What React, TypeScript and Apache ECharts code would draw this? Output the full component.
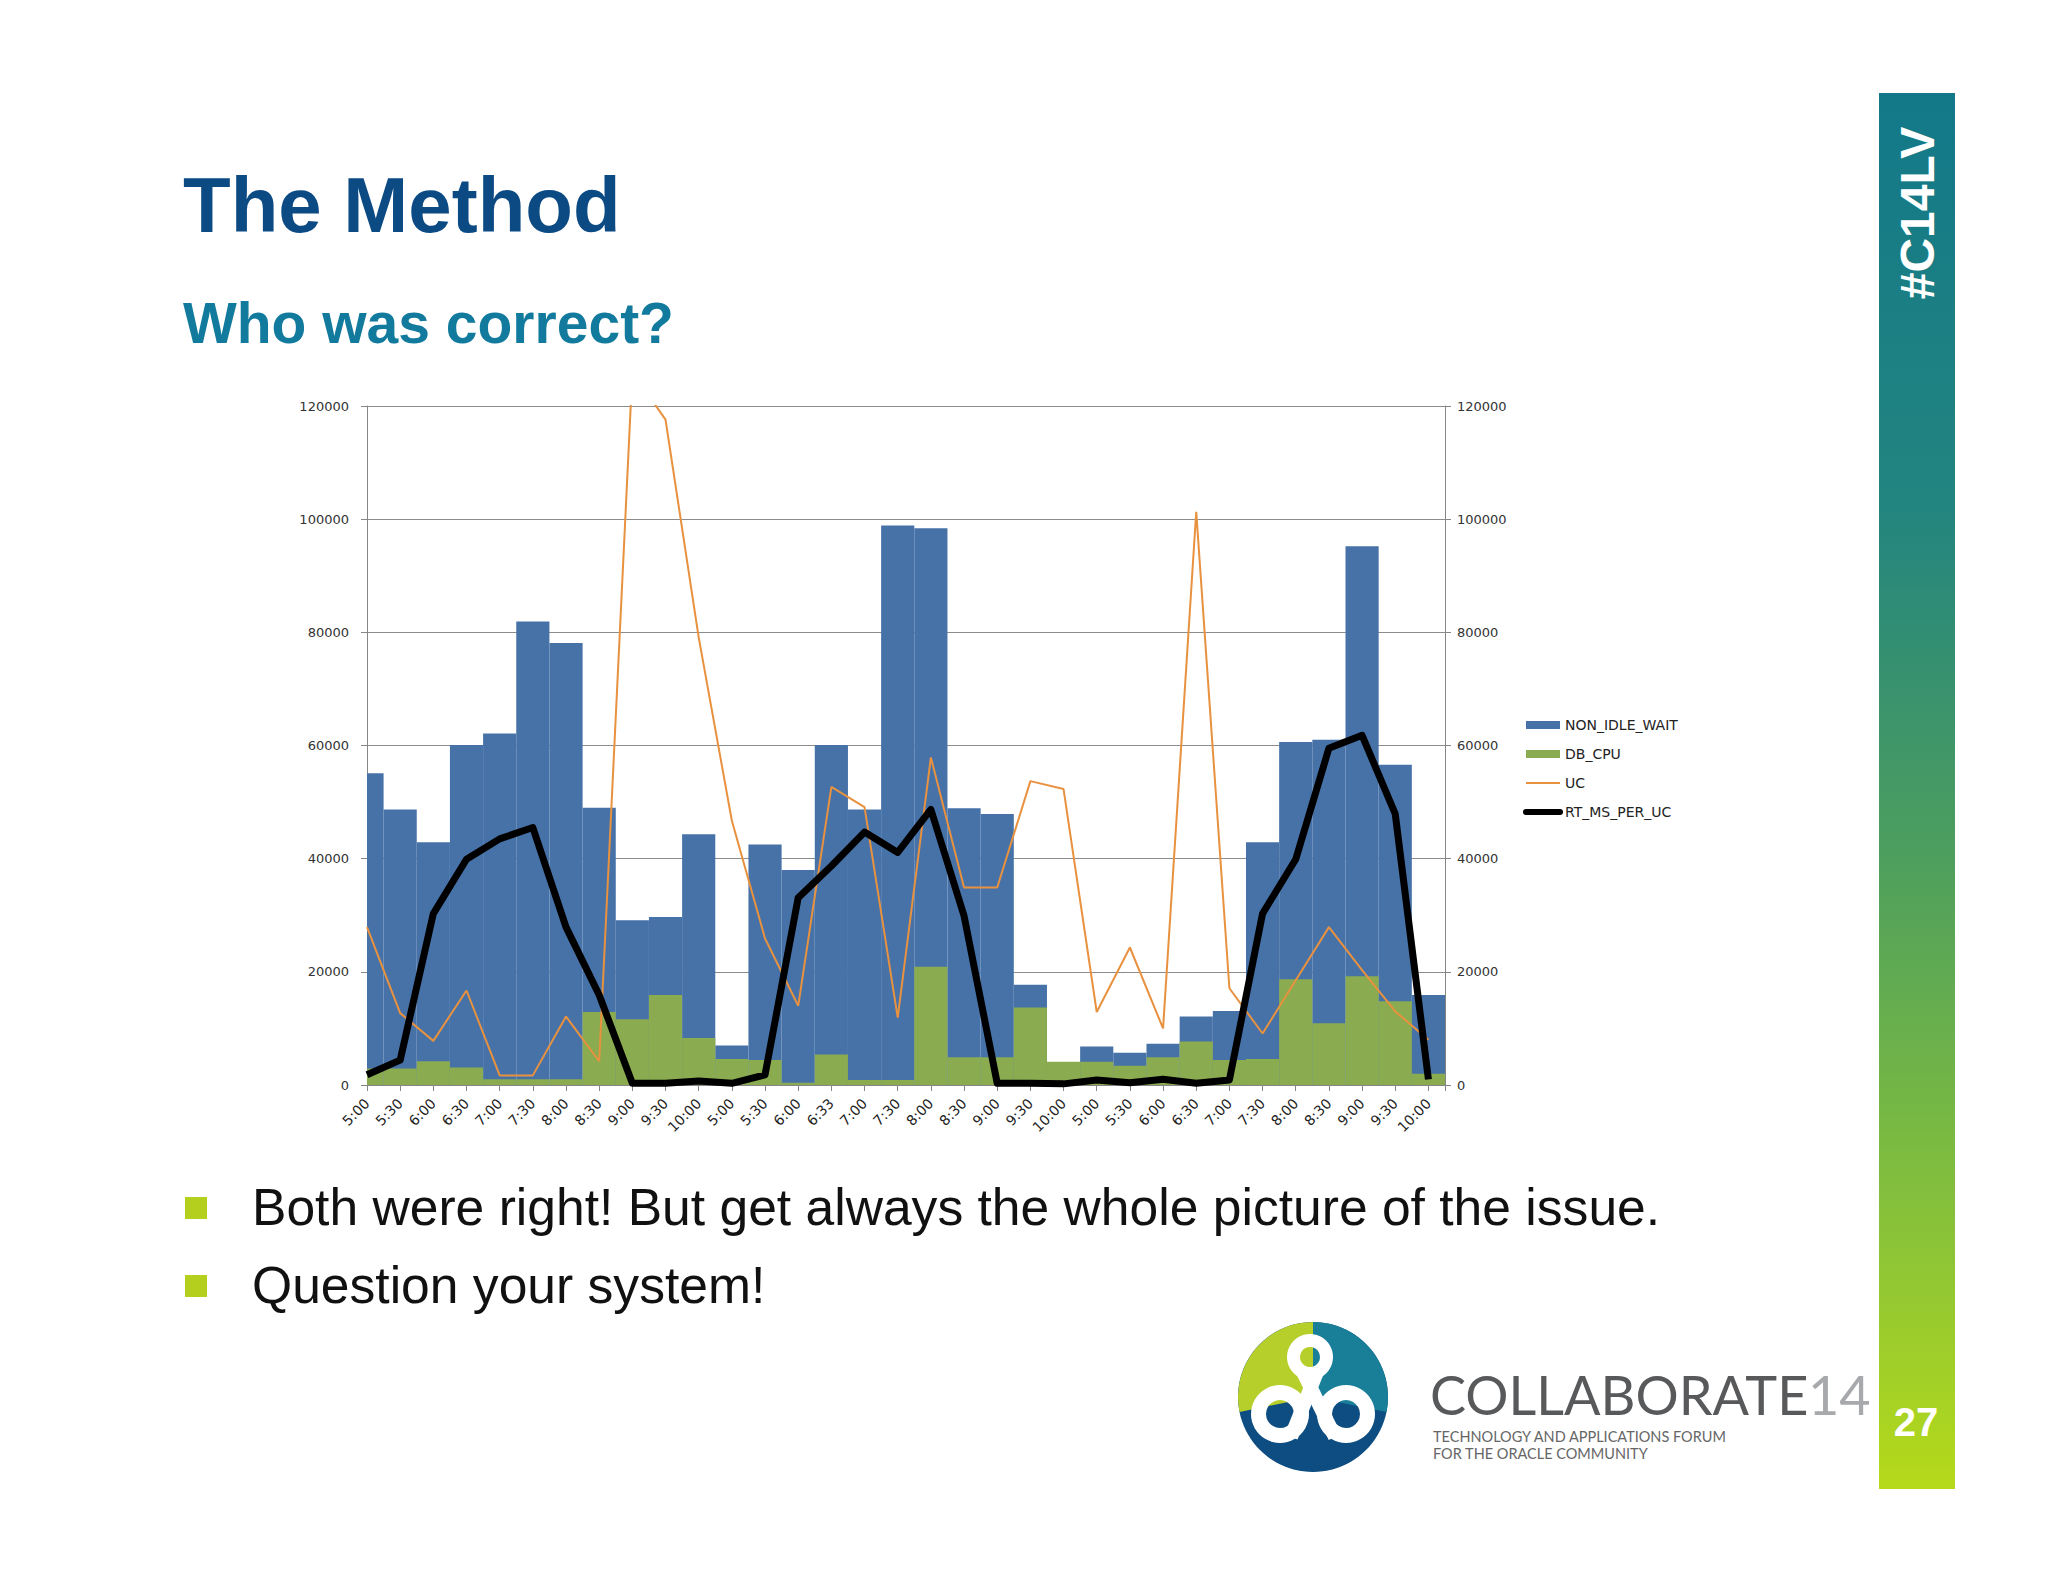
import React, { useEffect, useRef } from 'react';
import * as echarts from 'echarts';

const categories = ['5:00', '5:30', '6:00', '6:30', '7:00', '7:30', '8:00', '8:30', '9:00', '9:30', '10:00',
  '5:00', '5:30', '6:00', '6:33', '7:00', '7:30', '8:00', '8:30', '9:00', '9:30', '10:00',
  '5:00', '5:30', '6:00', '6:30', '7:00', '7:30', '8:00', '8:30', '9:00', '9:30', '10:00'];

const nonIdleWait = [55100, 48700, 42900, 60100, 62100, 81900, 78100, 49000, 29100, 29700, 44300,
  7000, 42500, 38000, 60100, 48700, 98900, 98400, 48900, 47900, 17700, 3800,
  6800, 5700, 7300, 12100, 13100, 42900, 60600, 61000, 95200, 56600, 15900];

const dbCpu = [2900, 2900, 4200, 3100, 1000, 1000, 1000, 12900, 11600, 15900, 8300,
  4600, 4400, 400, 5400, 900, 900, 20900, 4900, 4900, 13700, 4100,
  4100, 3400, 4900, 7700, 4400, 4600, 18700, 10900, 19200, 14800, 2000];

const uc = [27900, 12700, 7800, 16700, 1700, 1700, 12100, 4200, 126000, 117600, 79100,
  46700, 25900, 14000, 52700, 49100, 11900, 57900, 34900, 34900, 53700, 52300,
  12900, 24300, 10000, 101300, 17100, 9100, 18500, 27900, 20300, 13000, 8000];

const rtMsPerUc = [1800, 4400, 30300, 39900, 43500, 45500, 27900, 15900, 300, 300, 700,
  300, 1800, 33100, 38700, 44700, 41100, 48700, 29900, 300, 300, 200,
  900, 400, 1000, 300, 900, 30300, 39900, 59500, 61800, 47900, 1000];

const seriesNames = ['NON_IDLE_WAIT', 'DB_CPU', 'UC', 'RT_MS_PER_UC'];
const yMin = 0;
const yMax = 120000;
const yStep = 20000;

const bulletLines = ['Both were right! But get always the whole picture of the issue.', 'Question your system!'];

const toPoints = (arr: number[]) => arr.map((v, i) => [i, v]);

// Bars centred on the category tick, one category wide, clipped to the plot area
const makeBarRenderer = (color: string) => (params: any, api: any) => {
  const x = api.value(0);
  const v = api.value(1);
  const topLeft = api.coord([x - 0.5, v]);
  const bottomRight = api.coord([x + 0.5, 0]);
  const cs = params.coordSys;
  const shape = echarts.graphic.clipRectByRect(
    { x: topLeft[0], y: topLeft[1], width: bottomRight[0] - topLeft[0], height: bottomRight[1] - topLeft[1] },
    { x: cs.x, y: cs.y, width: cs.width, height: cs.height }
  );
  if (!shape) return null;
  return { type: 'rect', shape, style: { fill: color } };
};

export default function App() {
  const ref = useRef<HTMLDivElement>(null);

  useEffect(() => {
    if (!ref.current) return;
    const chart = echarts.init(ref.current, null, { renderer: 'svg', width: 2048, height: 1582 });
    const axisFont = '"DejaVu Sans", Verdana, sans-serif';
    const sans = '"Liberation Sans", Arial, sans-serif';
    const logoFont = 'Lato, "Open Sans", sans-serif';
    const blue = '#4672a8';
    const green = '#8aab4f';
    const orange = '#e8913f';

    const option: any = {
      animation: false,
      backgroundColor: '#ffffff',
      grid: { left: 367, top: 406, width: 1078, height: 679 },
      legend: {
        orient: 'vertical',
        left: 1518,
        top: 713,
        itemWidth: 34,
        itemHeight: 8,
        itemGap: 15,
        data: [
          { name: seriesNames[0], icon: 'rect' },
          { name: seriesNames[1], icon: 'rect' },
          { name: seriesNames[2], itemStyle: { opacity: 0 }, lineStyle: { color: orange, width: 2 } },
          { name: seriesNames[3], itemStyle: { opacity: 0 }, lineStyle: { color: '#000', width: 6, cap: 'round' } },
        ],
        textStyle: { fontFamily: axisFont, fontSize: 14, color: '#222' },
      },
      xAxis: {
        type: 'value',
        min: 0,
        max: categories.length - 0.5,
        interval: 1,
        axisLine: { show: true, onZero: false, lineStyle: { color: '#868686', width: 1 } },
        axisTick: { show: true, length: 6, lineStyle: { color: '#868686' } },
        splitLine: { show: false },
        axisLabel: {
          rotate: 45,
          margin: 16,
          fontFamily: axisFont,
          fontSize: 14,
          color: '#222',
          formatter: (v: number) => (Number.isInteger(v) && categories[v] !== undefined ? categories[v] : ''),
        },
      },
      yAxis: [
        {
          type: 'value',
          min: yMin,
          max: yMax,
          interval: yStep,
          position: 'left',
          axisLine: { show: true, onZero: false, lineStyle: { color: '#868686' } },
          axisTick: { show: true, length: 6, lineStyle: { color: '#868686' } },
          splitLine: { show: true, lineStyle: { color: '#8c8c8c', width: 1 } },
          axisLabel: { fontFamily: axisFont, fontSize: 13, color: '#333', margin: 18, formatter: (v: number) => String(v) },
        },
        {
          type: 'value',
          min: yMin,
          max: yMax,
          interval: yStep,
          position: 'right',
          axisLine: { show: true, onZero: false, lineStyle: { color: '#868686' } },
          axisTick: { show: true, length: 6, lineStyle: { color: '#868686' } },
          splitLine: { show: false },
          axisLabel: { fontFamily: axisFont, fontSize: 13, color: '#333', margin: 12, formatter: (v: number) => String(v) },
        },
      ],
      series: [
        {
          name: seriesNames[0],
          type: 'custom',
          yAxisIndex: 0,
          data: toPoints(nonIdleWait),
          encode: { x: 0, y: 1 },
          renderItem: makeBarRenderer(blue),
          itemStyle: { color: blue },
          z: 2,
        },
        {
          name: seriesNames[1],
          type: 'custom',
          yAxisIndex: 0,
          data: toPoints(dbCpu),
          encode: { x: 0, y: 1 },
          renderItem: makeBarRenderer(green),
          itemStyle: { color: green },
          z: 3,
        },
        {
          name: seriesNames[2],
          type: 'line',
          yAxisIndex: 1,
          data: toPoints(uc),
          symbol: 'none',
          clip: true,
          lineStyle: { color: orange, width: 2 },
          itemStyle: { color: orange },
          z: 4,
        },
        {
          name: seriesNames[3],
          type: 'line',
          yAxisIndex: 1,
          data: toPoints(rtMsPerUc),
          symbol: 'none',
          clip: true,
          lineStyle: { color: '#000000', width: 7, join: 'round' },
          itemStyle: { color: '#000000' },
          z: 5,
        },
      ],
      graphic: [
        // Title & subtitle
        {
          type: 'text', x: 183, y: 205,
          style: { text: 'The Method', fill: '#0c4a84', font: `bold 78px ${sans}`, verticalAlign: 'middle' },
        },
        {
          type: 'text', x: 183, y: 323,
          style: { text: 'Who was correct?', fill: '#117a9d', font: `bold 57px ${sans}`, verticalAlign: 'middle' },
        },
        // Bullets
        { type: 'rect', shape: { x: 185, y: 1197, width: 22, height: 22 }, style: { fill: '#b5cf1f' } },
        { type: 'rect', shape: { x: 185, y: 1275, width: 22, height: 22 }, style: { fill: '#b5cf1f' } },
        {
          type: 'text', x: 252, y: 1207,
          style: { text: bulletLines[0], fill: '#111', font: `51.6px ${sans}`, verticalAlign: 'middle' },
        },
        {
          type: 'text', x: 252, y: 1285,
          style: { text: bulletLines[1], fill: '#111', font: `51.6px ${sans}`, verticalAlign: 'middle' },
        },
        // Sidebar
        {
          type: 'rect',
          shape: { x: 1879, y: 93, width: 76, height: 1396 },
          style: {
            fill: new echarts.graphic.LinearGradient(0, 0, 0, 1, [
              { offset: 0, color: '#137889' },
              { offset: 0.3, color: '#23857f' },
              { offset: 0.55, color: '#4e9f5d' },
              { offset: 0.8, color: '#86c13b' },
              { offset: 1, color: '#b6da1a' },
            ]),
          },
        },
        {
          type: 'text', x: 1917, y: 213, rotation: Math.PI / 2,
          style: { text: '#C14LV', fill: '#ffffff', font: `bold 48px ${sans}`, align: 'center', verticalAlign: 'middle' },
        },
        {
          type: 'text', x: 1916, y: 1422,
          style: { text: '27', fill: '#ffffff', font: `bold 40px ${sans}`, align: 'center', verticalAlign: 'middle' },
        },
        // Logo
        {
          type: 'group', x: 1313, y: 1397,
          children: [
            { type: 'circle', shape: { cx: 0, cy: 0, r: 75 }, style: { fill: '#0d4d81' } },
            { type: 'sector', shape: { cx: 0, cy: 0, r: 75, r0: 0, startAngle: Math.PI - 0.2, endAngle: Math.PI * 1.5 }, style: { fill: '#b7cf2b' } },
            { type: 'sector', shape: { cx: 0, cy: 0, r: 75, r0: 0, startAngle: Math.PI * 1.5, endAngle: Math.PI * 2 + 0.2 }, style: { fill: '#197f98' } },
            { type: 'line', shape: { x1: -10, y1: -25, x2: 22, y2: 40 }, style: { stroke: '#fff', lineWidth: 14 } },
            { type: 'line', shape: { x1: 4, y1: -25, x2: -22, y2: 40 }, style: { stroke: '#fff', lineWidth: 14 } },
            { type: 'ring', shape: { cx: -3, cy: -40, r: 23, r0: 10 }, style: { fill: '#fff' } },
            { type: 'ring', shape: { cx: -33, cy: 17, r: 29, r0: 14 }, style: { fill: '#fff' } },
            { type: 'ring', shape: { cx: 33, cy: 17, r: 29, r0: 14 }, style: { fill: '#fff' } },
          ],
        },
        {
          type: 'text', x: 1430, y: 1394,
          style: { text: 'COLLABORATE', fill: '#58595b', font: `400 54px ${logoFont}`, verticalAlign: 'middle' },
        },
        {
          type: 'text', x: 1808, y: 1394,
          style: { text: '14', fill: '#a7a9ac', font: `400 54px ${logoFont}`, verticalAlign: 'middle' },
        },
        {
          type: 'text', x: 1433, y: 1436,
          style: { text: 'TECHNOLOGY AND APPLICATIONS FORUM', fill: '#666', font: `14.5px ${logoFont}`, verticalAlign: 'middle' },
        },
        {
          type: 'text', x: 1433, y: 1453,
          style: { text: 'FOR THE ORACLE COMMUNITY', fill: '#666', font: `14.5px ${logoFont}`, verticalAlign: 'middle' },
        },
      ],
    };

    chart.setOption(option);
    return () => chart.dispose();
  }, []);

  return (
    <div
      ref={ref}
      style={{ position: 'absolute', left: 0, top: 0, width: 2048, height: 1582, background: '#ffffff' }}
    />
  );
}
